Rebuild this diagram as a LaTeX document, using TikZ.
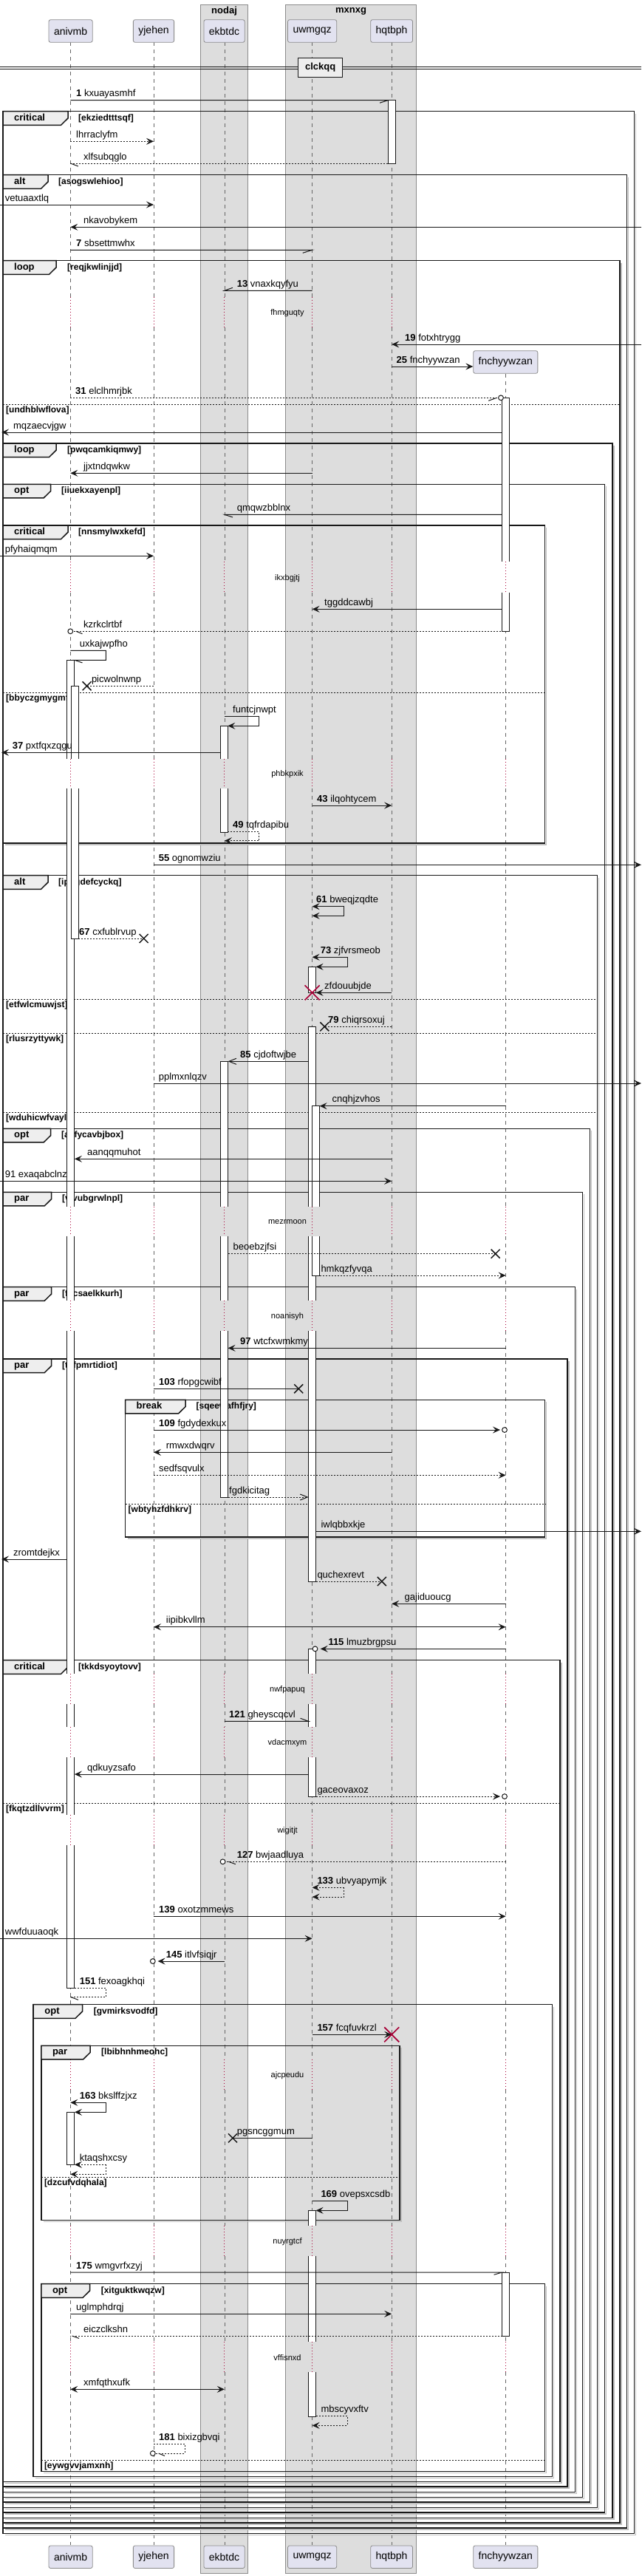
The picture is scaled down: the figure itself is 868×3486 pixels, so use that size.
\documentclass[tikz,border=0pt]{standalone}
\usepackage{fontspec}
\setmainfont{Liberation Sans}
\usetikzlibrary{arrows.meta}
\definecolor{partfill}{HTML}{E2E2F0}
\definecolor{grpfill}{HTML}{DDDDDD}
\definecolor{tabfill}{HTML}{EEEEEE}
\definecolor{crim}{HTML}{A80036}
\definecolor{ink}{HTML}{181818}
\tikzset{
 grp/.style={fill=grpfill, draw=black!45, line width=0.6pt},
 grptitle/.style={font=\fontsize{13}{15}\selectfont\bfseries, inner sep=0pt},
 part/.style={draw=black!45, fill=partfill, rounded corners=2.5pt, line width=0.8pt, minimum height=30.6pt, inner xsep=7pt, inner ysep=0pt, font=\fontsize{14}{16}\selectfont},
 lifel/.style={draw=black!60, line width=0.6pt, dash pattern=on 5pt off 5pt},
 delayl/.style={draw=crim, line width=0.7pt, dash pattern=on 1pt off 3pt},
 frline/.style={draw=ink, line width=1.5pt},
 frshadow/.style={draw=black!25, line width=1.5pt},
 tabtxt/.style={font=\fontsize{13}{15}\selectfont\bfseries, inner sep=0pt},
 condtxt/.style={font=\fontsize{12}{14}\selectfont\bfseries, inner sep=0pt},
 elsel/.style={draw=ink, line width=1pt, dash pattern=on 2pt off 2pt},
 barl/.style={draw=ink, line width=1pt},
 msg/.style={draw=ink, line width=1pt},
 dmsg/.style={msg, dash pattern=on 2pt off 2pt},
 tipF/.style={-{Stealth[length=10pt,width=9pt,inset=4pt]}},
 tipBB/.style={{Stealth[length=10pt,width=9pt,inset=4pt]}-{Stealth[length=10pt,width=9pt,inset=4pt]}},
 tipO/.style={-{Straight Barb[length=10pt,width=8pt]}},
 lab/.style={font=\fontsize{13}{15}\selectfont, inner sep=0pt},
 dlytxt/.style={font=\fontsize{11}{13}\selectfont, inner sep=0pt},
 xm/.style={draw=ink, line width=1.5pt},
 dx/.style={draw=crim, line width=1.6pt},
 divbox/.style={draw=ink, line width=1.5pt, fill=tabfill, font=\fontsize{13}{15}\selectfont\bfseries, minimum width=60pt, minimum height=26pt, inner sep=0pt},
}
\newcommand\mlab[3]{\node[lab,anchor=base west] at (#1,#2-5) {#3};}
\newcommand\lostx[2]{\draw[xm] (#1-6,#2-6) -- (#1+6,#2+6) (#1-6,#2+6) -- (#1+6,#2-6);}
\newcommand\destx[2]{\draw[dx] (#1-10,#2-10) -- (#1+10,#2+10) (#1-10,#2+10) -- (#1+10,#2-10);}
\newcommand\circend[2]{\draw[msg,fill=white] (#1,#2) circle (3.4);}
\newcommand\barTB[3]{\fill[white] (#1-5,#2) rectangle (#1+5,#3); \draw[barl] (#1-5,#2) rectangle (#1+5,#3);}
\newcommand\barT[3]{\fill[white] (#1-5,#2) rectangle (#1+5,#3); \draw[barl] (#1-5,#3) -- (#1-5,#2) -- (#1+5,#2) -- (#1+5,#3);}
\newcommand\barB[3]{\fill[white] (#1-5,#2) rectangle (#1+5,#3); \draw[barl] (#1-5,#2) -- (#1-5,#3) -- (#1+5,#3) -- (#1+5,#2);}
\newcommand\barM[3]{\fill[white] (#1-5,#2) rectangle (#1+5,#3); \draw[barl] (#1-5,#2) -- (#1-5,#3) (#1+5,#2) -- (#1+5,#3);}
% frame: l t r b tabR kind cond condX
\newcommand\frm[8]{%
 \draw[frshadow] (#3+2,#2+3) -- (#3+2,#4+2) -- (#1+3,#4+2);
 \draw[frline] (#1,#2) rectangle (#3,#4);
 \draw[frline,fill=tabfill] (#1,#2) -- (#5,#2) -- (#5,#2+9.3) -- (#5-9.5,#2+18.6) -- (#1,#2+18.6) -- cycle;
 \node[tabtxt,anchor=mid west] at (#1+15,#2+10) {#6};
 \node[condtxt,anchor=mid west] at (#8,#2+10) {#7};}
\newcommand\els[4]{\draw[elsel] (#1,#3) -- (#2,#3); \node[condtxt,anchor=mid west] at (#1+4,#3+8.5) {#4};}
\newcommand\dly[2]{\node[dlytxt] at (389,#1) {#2};}
\begin{document}
\begin{tikzpicture}[x=1pt,y=-1pt]
\useasboundingbox (0,0) rectangle (868,3486);
% groups
\draw[grp] (271.5,6) rectangle (335.6,3482);
\node[grptitle] (gN) at (303.55,15.5) {nodaj};
\draw[grp] (386.3,6) rectangle (563.6,3482);
\node[grptitle] (gM) at (475,15.5) {mxnxg};
% lifelines
\foreach \x in {95.3,208,303.8,422.6,530.2}{
 \foreach \a/\b in {57.3/401.7,443.3/760,801.7/1026.7,1066.7/1632.7,1672.7/1760,1801/2265,2306/2337.3,2378.3/2456,2496.7/2786.7,2828.3/3011.7,3053.3/3169.3,3210/3444.3}
  {\draw[lifel] (\x,\a) -- (\x,\b);}
 \foreach \a/\b in {401.7/443.3,760/801.7,1026.7/1066.7,1632.7/1672.7,1760/1801,2265/2306,2337.3/2378.3,2456/2496.7,2786.7/2828.3,3011.7/3053.3,3169.3/3210}
  {\draw[delayl] (\x,\a) -- (\x,\b);}
}
\foreach \a/\b in {505.7/760,801.7/1026.7,1066.7/1632.7,1672.7/1760,1801/2265,2306/2337.3,2378.3/2456,2496.7/2786.7,2828.3/3011.7,3053.3/3169.3,3210/3444.3}
  {\draw[lifel] (684.6,\a) -- (684.6,\b);}
\foreach \a/\b in {760/801.7,1026.7/1066.7,1632.7/1672.7,1760/1801,2265/2306,2337.3/2378.3,2456/2496.7,2786.7/2828.3,3011.7/3053.3,3169.3/3210}
  {\draw[delayl] (684.6,\a) -- (684.6,\b);}
% participants
\node[part] (hA) at (95.6,42) {anivmb};
\node[part] (hY) at (208,42) {yjehen};
\node[part] (hE) at (303.55,42) {ekbtdc};
\node[part] (hU) at (422.6,42) {uwmgqz};
\node[part] (hH) at (530.1,42) {hqtbph};
\node[part] (hF) at (684.3,490) {fnchyywzan};
\node[part] (fA) at (95.6,3460.2) {anivmb};
\node[part] (fY) at (208,3460.2) {yjehen};
\node[part] (fE) at (303.55,3460.2) {ekbtdc};
\node[part] (fU) at (422.6,3460.2) {uwmgqz};
\node[part] (fH) at (530.1,3460.2) {hqtbph};
\node[part] (fF) at (684.3,3460.2) {fnchyywzan};
% divider
\draw[ink,line width=1pt] (0,90) -- (868,90) (0,93) -- (868,93);
\node[divbox] (dv) at (433.7,91.3) {clckqq};
% frames
\frm{4}{150.7}{858.5}{3428.3}{92}{critical}{[ekziedtttsqf]}{106}
\frm{4}{236.7}{848.5}{3421}{65}{alt}{[asogswlehioo]}{79}
\frm{4}{352.7}{839}{3414}{76}{loop}{[reqjkwlinjjd]}{91}
\els{4}{839}{547.3}{[undhblwflova]}
\frm{4}{600}{829}{3407.3}{76}{loop}{[pwqcamkiqmwy]}{91}
\frm{4}{655.3}{818.4}{3400}{68.6}{opt}{[iiuekxayenpl]}{83}
\frm{4}{711}{737.6}{1141}{92}{critical}{[nnsmylwxkefd]}{106}
\els{4}{737.6}{937.3}{[bbyczgmygmfp]}
\frm{4}{1184.7}{808.4}{3393.3}{65}{alt}{[ipqgdefcyckq]}{79}
\els{4}{808.4}{1352.3}{[etfwlcmuwjst]}
\els{4}{808.4}{1398.3}{[rlusrzyttywk]}
\els{4}{808.4}{1505.3}{[wduhicwfvayl]}
\frm{4}{1527.3}{798.3}{3386}{68.6}{opt}{[acfycavbjbox]}{83}
\frm{4}{1613.3}{788.3}{3379.3}{69.7}{par}{[vlvubgrwlnpl]}{84}
\frm{4}{1741.7}{778.3}{3372.3}{69.7}{par}{[fycsaelkkurh]}{84}
\frm{4}{1839}{768.2}{3365}{69.7}{par}{[tcfpmrtidiot]}{84}
\frm{169.5}{1894.3}{737.6}{2080}{251}{break}{[sqeewafhfjry]}{265.4}
\els{169.5}{737.6}{2035.3}{[wbtyhzfdhkrv]}
\frm{4}{2246.7}{758.2}{3358.3}{92}{critical}{[tkkdsyoytovv]}{106}
\els{4}{758.2}{2440.3}{[fkqtzdllvvrm]}
\frm{45.2}{2712.7}{747.6}{3351.7}{111.5}{opt}{[gvmirksvodfd]}{126.6}
\frm{55.8}{2768.3}{540.8}{3004.3}{122}{par}{[lbibhnhmeohc]}{137}
\els{55.8}{540.8}{2946.7}{[dzcufvdqhala]}
\frm{55.8}{3090.7}{737.6}{3344.3}{121.5}{opt}{[xitguktkwqzw]}{136.6}
\els{55.8}{737.6}{3329.3}{[eywgvvjamxnh]}
% activation bars
\barTB{530.1}{135.7}{221}
\barT{684.6}{538.3}{760}\barB{684.6}{801.7}{854.3}
\barT{95.9}{893.3}{1026.7}\barM{95.9}{1066.7}{1632.7}\barM{95.9}{1672.7}{1760}\barM{95.9}{1801}{2265}\barM{95.9}{2306}{2337.3}\barM{95.9}{2378.3}{2456}\barB{95.9}{2496.7}{2690}
\barT{101.1}{928.3}{1026.7}\barB{101.1}{1066.7}{1270}
\barT{303.55}{982.3}{1026.7}\barB{303.55}{1066.7}{1126}
\barTB{422.6}{1308.3}{1343.3}
\barT{422.6}{1389.3}{1632.7}\barM{422.6}{1672.7}{1760}\barB{422.6}{1801}{2140}
\barT{303.55}{1436.3}{1632.7}\barM{303.55}{1672.7}{1760}\barB{303.55}{1801}{2026}
\barT{427.6}{1496.7}{1632.7}\barB{427.6}{1672.7}{1726}
\barT{422.6}{2231.3}{2265}\barM{422.6}{2306}{2337.3}\barB{422.6}{2378.3}{2431}
\barTB{95.9}{2858.3}{2929.3}
\barT{422.6}{2991.3}{3011.7}\barM{422.6}{3053.3}{3169.3}\barB{422.6}{3210}{3270}
\barTB{684.6}{3075}{3161}
% messages
\draw[msg] (95.3,135.7) -- (525.1,135.7) -- ++(-11,3.5);
\mlab{103}{135.7}{\textbf{1} kxuayasmhf}
\draw[dmsg,tipF] (95.3,191.3) -- (208,191.3);
\mlab{103}{191.3}{lhrraclyfm}
\draw[dmsg] (525.1,221) -- (95.3,221); \draw[msg] (95.3,221) -- ++(10.6,4);
\mlab{113}{221}{xlfsubqglo}
\draw[msg,tipF] (0,277) -- (208,277);
\mlab{6.7}{277}{vetuaaxtlq}
\draw[msg,tipF] (868,307.3) -- (95.3,307.3);
\mlab{113}{307.3}{nkavobykem}
\draw[msg] (95.3,338.3) -- (422.6,338.3) -- ++(-12.8,4);
\mlab{103}{338.3}{\textbf{7} sbsettmwhx}
\draw[msg] (422.6,393.3) -- (303.8,393.3) -- ++(11.2,-4);
\mlab{320.6}{393.3}{\textbf{13} vnaxkqyfyu}
\draw[msg,tipF] (868,466) -- (530.2,466);
\mlab{548}{466}{\textbf{19} fotxhtrygg}
\draw[msg,tipF] (530.2,496) -- (hF.west |- 0,496);
\mlab{536.5}{496}{\textbf{25} fnchyywzan}
\draw[dmsg] (95.3,538.3) -- (674.6,538.3); \circend{678}{538.3}
\draw[msg] (672.4,538.3) -- ++(-11.2,4);
\mlab{102}{538.3}{\textbf{31} elclhmrjbk}
\draw[msg,tipF] (679.6,585) -- (2,585);
\mlab{17.8}{585}{mqzaecvjgw}
\draw[msg,tipF] (422.6,640.3) -- (95.3,640.3);
\mlab{113}{640.3}{jjxtndqwkw}
\draw[msg] (679.6,696.3) -- (303.8,696.3) -- ++(11.2,3.7);
\mlab{320.6}{696.3}{qmqwzbblnx}
\draw[msg,tipF] (0,752.3) -- (208,752.3);
\mlab{6.7}{752.3}{pfyhaiqmqm}
\draw[msg,tipF] (679.6,824.3) -- (422.6,824.3);
\mlab{439}{824.3}{tggddcawbj}
\draw[dmsg] (689.6,854.3) -- (98.7,854.3); \circend{95.3}{854.3}
\draw[msg] (103,854.3) -- ++(8.5,3.4);
\mlab{113}{854.3}{kzrkclrtbf}
\draw[msg] (95.3,880.3) -- (143.3,880.3) -- (143.3,893.3) -- (100.9,893.3) -- ++(10.6,3.6);
\mlab{107.6}{880.3}{uxkajwpfho}
\draw[dmsg] (208,928.3) -- (117.6,928.3); \lostx{117.6}{928.3}
\mlab{123.8}{928.3}{picwolnwnp}
\draw[msg,tipF] (303.8,969.3) -- (350.7,969.3) -- (350.7,982.3) -- (308.3,982.3);
\mlab{315}{969.3}{funtcjnwpt}
\draw[msg,tipF] (298.8,1018.3) -- (2,1018.3);
\mlab{16.7}{1018.3}{\textbf{37} pxtfqxzqgu}
\draw[msg,tipF] (422.6,1090) -- (530.2,1090);
\mlab{429}{1090}{\textbf{43} ilqohtycem}
\draw[dmsg,tipF] (308.3,1125.3) -- (350.7,1125.3) -- (350.7,1137.7) -- (303.8,1137.7);
\mlab{315}{1125.3}{\textbf{49} tqfrdapibu}
\draw[msg,tipF] (208,1170.3) -- (868,1170.3);
\mlab{214.6}{1170.3}{\textbf{55} ognomwziu}
\draw[msg,tipBB] (422.6,1226.7) -- (465,1226.7) -- (465,1239.3) -- (422.6,1239.3);
\mlab{428}{1226.7}{\textbf{61} bweqjzqdte}
\draw[dmsg] (106.1,1270) -- (194.6,1270); \lostx{194.6}{1270}
\mlab{107}{1270}{\textbf{67} cxfublrvup}
\draw[msg,tipBB] (422.6,1295.3) -- (470,1295.3) -- (470,1308.3) -- (427.6,1308.3);
\mlab{433.7}{1295.3}{\textbf{73} zjfvrsmeob}
\draw[msg,tipF] (530.2,1343.3) -- (427.6,1343.3); \destx{422.6}{1343.3}
\mlab{439}{1343.3}{zfdouubjde}
\draw[dmsg] (530.2,1389.3) -- (439.3,1389.3); \lostx{439.3}{1389.3}
\mlab{444}{1389.3}{\textbf{79} chiqrsoxuj}
\draw[msg,tipO] (417.6,1436.3) -- (308.55,1436.3);
\mlab{325}{1436.3}{\textbf{85} cjdoftwjbe}
\draw[msg,tipF] (208,1466) -- (868,1466);
\mlab{214.6}{1466}{pplmxnlqzv}
\draw[msg,tipF] (684.6,1496.7) -- (432.6,1496.7);
\mlab{449.4}{1496.7}{cnqhjzvhos}
\draw[msg,tipF] (530.2,1568.3) -- (100.9,1568.3);
\mlab{118}{1568.3}{aanqqmuhot}
\draw[msg,tipF] (0,1598.3) -- (530.2,1598.3);
\mlab{6.7}{1598.3}{91 exaqabclnz}
\draw[dmsg] (308.55,1696.7) -- (670.7,1696.7); \lostx{670.7}{1696.7}
\mlab{315.5}{1696.7}{beoebzjfsi}
\draw[dmsg,tipF] (432.6,1726) -- (684.6,1726);
\mlab{434.3}{1726}{hmkqzfyvqa}
\draw[msg,tipF] (684.6,1824.3) -- (308.55,1824.3);
\mlab{325}{1824.3}{\textbf{97} wtcfxwmkmy}
\draw[msg] (208,1879.3) -- (404.2,1879.3); \lostx{404.2}{1879.3}
\mlab{215}{1879.3}{\textbf{103} rfopgcwibf}
\draw[msg,tipF] (208,1935) -- (677,1935); \circend{683}{1935}
\mlab{215}{1935}{\textbf{109} fgdydexkux}
\draw[msg,tipF] (530.2,1965.3) -- (208,1965.3);
\mlab{224.7}{1965.3}{rmwxdwqrv}
\draw[dmsg,tipF] (208,1996.3) -- (684.6,1996.3);
\mlab{215}{1996.3}{sedfsqvulx}
\draw[dmsg,tipO] (308.55,2026) -- (417.6,2026);
\mlab{310}{2026}{fgdkicitag}
\draw[msg,tipF] (427.6,2072.3) -- (868,2072.3);
\mlab{434.3}{2072.3}{iwlqbbxkje}
\draw[msg,tipF] (90.9,2110) -- (2,2110);
\mlab{17.8}{2110}{zromtdejkx}
\draw[dmsg] (427.6,2140) -- (516.8,2140); \lostx{516.8}{2140}
\mlab{429.3}{2140}{quchexrevt}
\draw[msg,tipF] (684.6,2170.3) -- (530.2,2170.3);
\mlab{547.5}{2170.3}{gajiduoucg}
\draw[msg,tipBB] (208,2201.7) -- (684.6,2201.7);
\mlab{224.7}{2201.7}{iipibkvllm}
\draw[msg,tipF] (684.6,2231.3) -- (433.7,2231.3); \circend{426.5}{2231.3}
\mlab{444.3}{2231.3}{\textbf{115} lmuzbrgpsu}
\draw[msg] (303.8,2329.3) -- (417.6,2329.3) -- ++(-11,-4);
\mlab{310}{2329.3}{\textbf{121} gheyscqcvl}
\draw[msg,tipF] (417.6,2401) -- (100.9,2401);
\mlab{118}{2401}{qdkuyzsafo}
\draw[dmsg,tipF] (427.6,2431) -- (677,2431); \circend{683}{2431}
\mlab{429.3}{2431}{gaceovaxoz}
\draw[dmsg] (684.6,2519.3) -- (305,2519.3); \circend{301.6}{2519.3}
\draw[msg] (309.4,2519.3) -- ++(9.5,3.4);
\mlab{320.6}{2519.3}{\textbf{127} bwjaadluya}
\draw[dmsg,tipBB] (422.6,2554.3) -- (465,2554.3) -- (465,2567) -- (422.6,2567);
\mlab{429.3}{2554.3}{\textbf{133} ubvyapymjk}
\draw[msg,tipF] (208,2593.3) -- (684.6,2593.3);
\mlab{215}{2593.3}{\textbf{139} oxotzmmews}
\draw[msg,tipF] (0,2623.3) -- (422.6,2623.3);
\mlab{6.7}{2623.3}{wwfduuaoqk}
\draw[msg,tipF] (303.8,2654) -- (213.6,2654); \circend{206.8}{2654}
\mlab{224.7}{2654}{\textbf{145} itlvfsiqjr}
\draw[dmsg] (100.9,2690) -- (143.3,2690) -- (143.3,2702.3) -- (95.3,2702.3); \draw[msg] (95.3,2702.3) -- ++(10.6,4);
\mlab{107.6}{2690}{\textbf{151} fexoagkhqi}
\draw[msg,tipF] (422.6,2753.3) -- (530.2,2753.3); \destx{530.2}{2753.3}
\mlab{429.3}{2753.3}{\textbf{157} fcqfuvkrzl}
\draw[msg,tipBB] (95.3,2845.3) -- (143.3,2845.3) -- (143.3,2858.3) -- (100.9,2858.3);
\mlab{107.6}{2845.3}{\textbf{163} bkslffzjxz}
\draw[msg] (422.6,2893.3) -- (315,2893.3); \lostx{315}{2893.3}
\mlab{320.6}{2893.3}{pgsncggmum}
\draw[dmsg,tipBB] (100.9,2929.3) -- (143.3,2929.3) -- (143.3,2942.3) -- (95.3,2942.3);
\mlab{107.6}{2929.3}{ktaqshxcsy}
\draw[msg,tipF] (422.6,2978.3) -- (470,2978.3) -- (470,2991.3) -- (427.6,2991.3);
\mlab{434.3}{2978.3}{\textbf{169} ovepsxcsdb}
\draw[msg] (95.3,3075) -- (679.6,3075) -- ++(-11,3.3);
\mlab{103}{3075}{\textbf{175} wmgvrfxzyj}
\draw[msg,tipF] (95.3,3131.3) -- (530.2,3131.3);
\mlab{103}{3131.3}{uglmphdrqj}
\draw[dmsg] (679.6,3161) -- (95.3,3161); \draw[msg] (97.5,3161) -- ++(9.5,3.4);
\mlab{113}{3161}{eiczclkshn}
\draw[msg,tipBB] (95.3,3233.3) -- (303.8,3233.3);
\mlab{113}{3233.3}{xmfqthxufk}
\draw[dmsg,tipF] (427.6,3269.3) -- (470,3269.3) -- (470,3282.3) -- (422.6,3282.3);
\mlab{434.3}{3269.3}{mbscyvxftv}
\draw[dmsg] (208,3307.3) -- (250.3,3307.3) -- (250.3,3320) -- (210.2,3320); \circend{206.8}{3320}
\draw[msg] (214.6,3320) -- ++(8.4,3.4);
\mlab{215}{3307.3}{\textbf{181} bixizgbvqi}
% delays
\dly{423.3}{fhmguqty}
\dly{782.3}{ikxbgjtj}
\dly{1047.3}{phbkpxik}
\dly{1653.3}{mezrmoon}
\dly{1781.3}{noanisyh}
\dly{2286.7}{nwfpapuq}
\dly{2358.3}{vdacmxym}
\dly{2477.3}{wigitjt}
\dly{2808.3}{ajcpeudu}
\dly{3033.3}{nuyrgtcf}
\dly{3191}{vffisnxd}
\end{tikzpicture}
\end{document}
